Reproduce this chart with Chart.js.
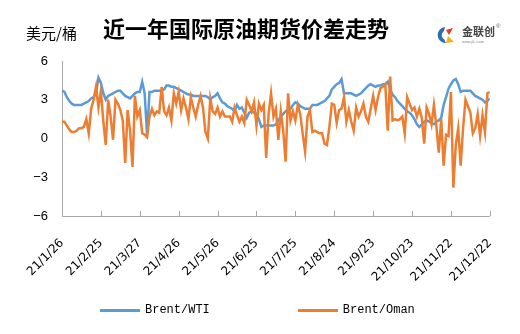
<!DOCTYPE html>
<html>
<head>
<meta charset="utf-8">
<script src="https://cdn.jsdelivr.net/npm/chart.js@4.4.1/dist/chart.umd.min.js"></script>
<style>
    body { margin: 0; background: #fff; }
    #wrap { position: relative; width: 520px; height: 334px; overflow: hidden; }
    #myChart { position: absolute; left: 0; top: 0; }
    .title { position: absolute; left: 103px; top: 14px; font: bold 22px "Noto Sans CJK SC"; line-height: 26px; color: #000; white-space: nowrap; }
    .unit { position: absolute; left: 26px; top: 24px; font: 15px "Noto Sans CJK SC"; line-height: 18px; color: #000; }
    .logo { position: absolute; left: 436px; top: 24px; width: 70px; height: 22px; }
    .logo svg { position: absolute; left: 0; top: 2px; }
    .logo .name { position: absolute; left: 26px; top: 1px; font: bold 11px "Noto Sans CJK SC"; line-height: 13px; color: #444; }
    .logo .reg { position: absolute; left: 60px; top: -1px; font: 6px "Liberation Sans"; color: #666; }
    .logo .site { position: absolute; left: 26px; top: 15px; font: 4px "Liberation Sans"; color: #888; }
    #legend { position: absolute; left: 100px; top: 302px; display: flex; }
    .item { display: flex; align-items: center; margin-right: 88px; height: 16px; }
    .item .swatch { width: 40px; height: 3px; margin-right: 5px; }
    .item span { font: 12px "Liberation Mono"; color: #000; }
</style>
</head>
<body>
<div id="wrap">
    <canvas id="myChart" width="520" height="334"></canvas>
    <div class="unit">美元/桶</div>
    <div class="title">近一年国际原油期货价差走势</div>
    <div class="logo">
        <svg width="20" height="18" viewBox="0 0 20 18">
            <path d="M9 1 C3 2 1 7 2 11 C3 15 7 17 10 17 L8 13 C5 12 5 7 8 5 Z" fill="#2e6db4"/>
            <path d="M10 4 L17 2 L13 9 Z" fill="#e23b2e"/>
            <path d="M12 10 L18 16 L10 17 Z" fill="#f2b21b"/>
        </svg>
        <div class="name">金联创</div>
        <div class="reg">®</div>
        <div class="site">www.jlc.com</div>
    </div>
    <div id="legend"></div>
</div>
<script>
// month tick labels, one every 16 trading days
const tickLabels = ["21/1/26", "21/2/25", "21/3/27", "21/4/26", "21/5/26", "21/6/25",
    "21/7/25", "21/8/24", "21/9/23", "21/10/23", "21/11/22", "21/12/22"]
const step = 16

// Brent/WTI spread, USD/bbl
const brentWti = [
    3.7, 3.6, 3.2, 2.9, 2.7, 2.6, 2.6, 2.6, 2.6, 2.7,
    2.8, 2.9, 3.1, 3.2, 3.5, 4.7, 4.3, 3.5, 3.0, 3.3,
    3.4, 3.5, 3.6, 3.7, 3.7, 3.5, 3.3, 3.2, 3.1, 3.3,
    3.5, 3.6, 3.6, 4.4, 3.5, 0.3, 3.6, 3.6, 3.7, 3.7,
    3.7, 3.7, 3.8, 4.1, 4.1, 4.0, 4.0, 3.9, 3.8, 3.7,
    3.6, 3.5, 3.4, 3.4, 3.3, 3.3, 3.3, 3.3, 3.3, 3.3,
    3.2, 3.0, 3.2, 3.3, 3.5, 3.1, 2.8, 2.7, 2.5, 2.4,
    2.3, 2.1, 2.6, 2.3, 2.4, 2.0, 1.6, 2.0, 2.1, 2.0,
    1.9, 1.5, 0.9, 1.0, 1.0, 1.0, 1.0, 1.0, 1.1, 1.4,
    1.7, 1.9, 2.1, 2.2, 2.3, 2.6, 2.8, 2.7, 2.5, 2.4,
    2.3, 2.3, 2.3, 2.6, 2.6, 2.6, 2.7, 2.8, 2.9, 3.1,
    3.3, 3.8, 4.0, 4.2, 4.3, 4.6, 3.5, 3.5, 3.5, 3.5,
    3.4, 3.3, 3.4, 3.5, 3.7, 3.9, 4.1, 4.2, 4.1, 4.0,
    4.1, 4.1, 4.2, 4.2, 4.4, 3.8, 3.4, 3.2, 2.9, 2.7,
    2.5, 2.3, 2.1, 2.0, 1.8, 1.5, 1.1, 0.9, 1.1, 1.3,
    1.4, 1.3, 1.2, 1.1, 1.3, 1.4, 1.6, 2.6, 3.2, 3.85,
    4.2, 4.5, 4.6, 4.2, 3.6, 3.7, 3.7, 3.7, 3.7, 3.5,
    3.3, 3.2, 3.1, 3.0, 2.8, 2.9, 3.1
]

// Brent/Oman spread, USD/bbl
const brentOman = [
    1.3, 1.3, 1.0, 0.7, 0.5, 0.5, 0.6, 0.8, 0.8, 0.9,
    1.5, 0.4, 2.3, 3.0, 4.0, 2.4, 3.7, 1.3, -0.5, 3.0,
    1.7, -0.1, 3.0, 2.7, 2.2, 1.4, -1.9, 2.2, 0.6, -2.2,
    3.3, 1.7, 2.2, 0.4, 0.3, 0.1, 1.7, 2.3, 1.8, 2.1,
    2.0, 4.0, 2.1, 1.8, 2.4, 1.4, 3.5, 2.7, 3.6, 2.2,
    3.1, 2.4, 1.5, 3.2, 2.4, 1.7, 2.6, 3.3, 2.4, 0.5,
    0.0, 3.1, 2.1, 1.9, 2.4, 1.7, 2.1, 1.7, 1.7, 1.7,
    1.3, 2.4, 1.8, 1.3, 1.7, 1.2, 3.0, 2.6, 2.1, 2.8,
    1.0, 2.7, 2.2, 2.6, -1.5, 1.9, 3.5, 1.7, 2.3, -0.1,
    2.1, 0.6, -1.8, 3.5, 1.4, 2.1, 1.4, 2.6, 1.9, 0.4,
    -1.0, 1.7, 2.2, 0.5, 0.6, 0.5, 0.4, 0.4, -0.4, -0.5,
    0.9, 2.7, 2.6, 1.2, 2.2, 2.3, 3.2, 1.3, 2.2, 1.3,
    0.6, 2.4, 1.7, 2.1, 2.7, 1.7, 1.3, 2.3, 3.3, 2.2,
    3.2, 3.9, 4.0, 4.2, 0.6, 4.8, 1.4, 1.5, 1.4, 1.5,
    1.7, 0.4, 3.2, 2.7, 2.2, 2.4, 1.7, 2.3, 1.6, -0.4,
    2.4, 1.9, 1.1, 2.6, 1.0, -1.1, 1.5, -2.1, 0.3, 0.2,
    3.6, -3.8, -0.5, 0.8, -2.1, 0.8, 3.0, 2.5, 2.0, 0.4,
    0.8, 1.9, 0.2, 1.8, 0.5, 3.5, 3.6
]

const axisColor = "#a6a6a6"

// short tick marks pointing up into the plot from the x axis
const innerTicks = {
    id: "innerTicks",
    afterDraw(chart) {
        const ctx = chart.ctx
        const x = chart.scales.x
        const bottom = chart.chartArea.bottom
        ctx.save()
        ctx.strokeStyle = axisColor
        ctx.lineWidth = 1
        x.ticks.forEach((t, i) => {
            const px = Math.round(x.getPixelForTick(i)) + 0.5
            ctx.beginPath()
            ctx.moveTo(px, bottom)
            ctx.lineTo(px, bottom - 5)
            ctx.stroke()
        })
        ctx.restore()
    }
}

const toPoints = (arr) => arr.map((v, i) => ({x: i, y: v}))

const datasets = [{
    label: "Brent/WTI",
    data: toPoints(brentWti),
    borderColor: "#5b9bd5",
    backgroundColor: "#5b9bd5",
    borderWidth: 2.5,
    pointRadius: 0,
    order: 2
}, {
    label: "Brent/Oman",
    data: toPoints(brentOman),
    borderColor: "#ed7d31",
    backgroundColor: "#ed7d31",
    borderWidth: 2.5,
    pointRadius: 0,
    order: 1
}]

const config = {
    type: "line",
    data: {datasets},
    options: {
        responsive: false,
        animation: false,
        layout: {padding: {top: 61, right: 29, left: 0, bottom: 0}},
        plugins: {
            legend: {display: false},
            tooltip: {enabled: false}
        },
        scales: {
            x: {
                type: "linear",
                min: 0,
                max: step * (tickLabels.length - 1),
                grid: {display: false, drawTicks: false},
                border: {color: axisColor},
                ticks: {
                    stepSize: step,
                    autoSkip: false,
                    minRotation: 45,
                    maxRotation: 45,
                    padding: 20,
                    color: "#000",
                    font: {family: "DejaVu Sans", size: 12},
                    callback: (v) => tickLabels[v / step]
                },
                afterFit: (scale) => { scale.height = 118 }
            },
            y: {
                min: -6,
                max: 6,
                grid: {display: false, drawTicks: false},
                border: {color: axisColor},
                ticks: {
                    stepSize: 3,
                    padding: 14,
                    color: "#000",
                    font: {family: "Liberation Sans", size: 13},
                    callback: (v) => String(v).replace("-", "\u2212")
                },
                afterFit: (scale) => { scale.width = 62 }
            }
        }
    },
    plugins: [innerTicks]
}

const myChart = new Chart(document.getElementById("myChart"), config)

// legend under the plot
const legend = document.getElementById("legend")
myChart.data.datasets.forEach((ds) => {
    const item = document.createElement("div")
    item.className = "item"
    const swatch = document.createElement("div")
    swatch.className = "swatch"
    swatch.style.background = ds.borderColor
    const text = document.createElement("span")
    text.textContent = ds.label
    item.appendChild(swatch)
    item.appendChild(text)
    legend.appendChild(item)
})
</script>
</body>
</html>
